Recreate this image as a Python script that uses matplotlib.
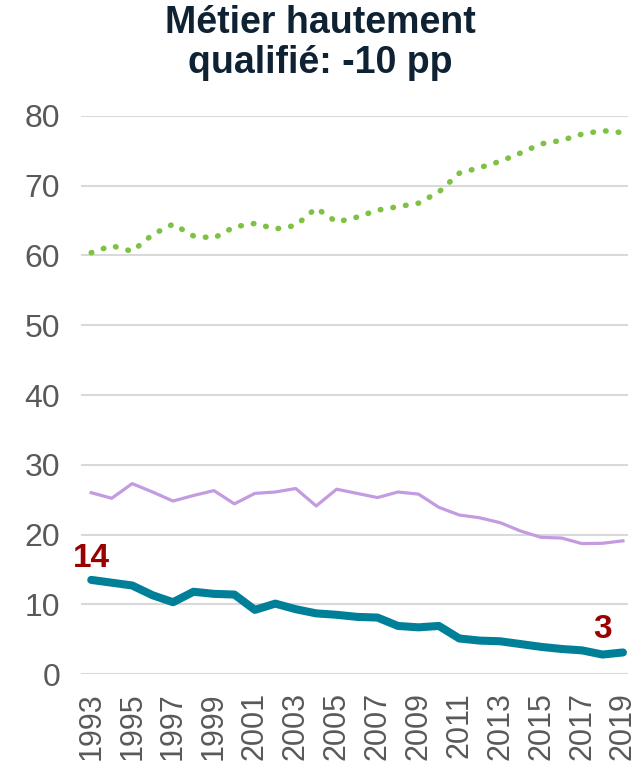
import numpy as np
import matplotlib
matplotlib.use("Agg")
from matplotlib import pyplot as plt

plt.rcParams['font.family'] = ['Liberation Sans', 'DejaVu Sans']

years = list(range(1993, 2020))
green = [60.4, 61.4, 60.6, 63.0, 64.5, 62.8, 62.5, 64.1, 64.6, 63.8, 64.3, 66.8, 64.8,
         65.5, 66.5, 67.0, 67.5, 69.1, 71.8, 72.6, 73.5, 74.7, 76.0, 76.5, 77.4, 77.9, 77.6]
purple = [26.0, 25.2, 27.3, 26.1, 24.8, 25.6, 26.3, 24.4, 25.9, 26.1, 26.6, 24.1, 26.5,
          25.9, 25.3, 26.1, 25.8, 23.9, 22.8, 22.4, 21.7, 20.5, 19.6, 19.5, 18.7, 18.75, 19.1]
teal = [13.5, 13.1, 12.7, 11.3, 10.3, 11.8, 11.5, 11.4, 9.2, 10.1, 9.3, 8.7, 8.5,
        8.2, 8.1, 6.9, 6.7, 6.9, 5.1, 4.8, 4.7, 4.3, 3.9, 3.6, 3.4, 2.8, 3.1]
tick_years = years[::2]
title = "Métier hautement\nqualifié: -10 pp"

fig = plt.figure(figsize=(6.41, 7.66), dpi=100)
ax = fig.add_axes([0.1264, 0.12, 0.8534, 0.7286])

ax.plot(years, green, color="#7DC242", lw=4.0, linestyle=(0, (0.1, 2.2)),
        dash_capstyle="round")
ax.plot(years, purple, color="#C39BE1", lw=2.3)
ax.plot(years, teal, color="#007F99", lw=5.8, solid_capstyle="round")

ax.text(years[0], teal[0] + 1.8, "14", color="#990000", fontsize=24,
        fontweight="bold", ha="center", va="baseline")
ax.text(years[-2], teal[-1] + 2.1, "3", color="#990000", fontsize=24,
        fontweight="bold", ha="center", va="baseline")

ax.set_xlim(1992.5, 2019.25)
ax.set_ylim(0, 80)
ax.set_yticks(range(0, 81, 10))
ax.set_xticks(tick_years)
ax.set_xticklabels([str(y) for y in tick_years], rotation=90)
ax.tick_params(axis="both", length=0, labelsize=22, colors="#595959")
ax.tick_params(axis="y", labelsize=23, pad=15)
ax.tick_params(axis="x", pad=13)
ax.grid(axis="y", color="#D9D9D9", lw=1.5)
ax.set_axisbelow(True)
for s in ax.spines.values():
    s.set_visible(False)

fig.text(0.5, 0.994, title, ha="center", va="top", fontsize=27,
         fontweight="bold", color="#0E2233", linespacing=1.15)

fig.savefig("out.png", dpi=100)
